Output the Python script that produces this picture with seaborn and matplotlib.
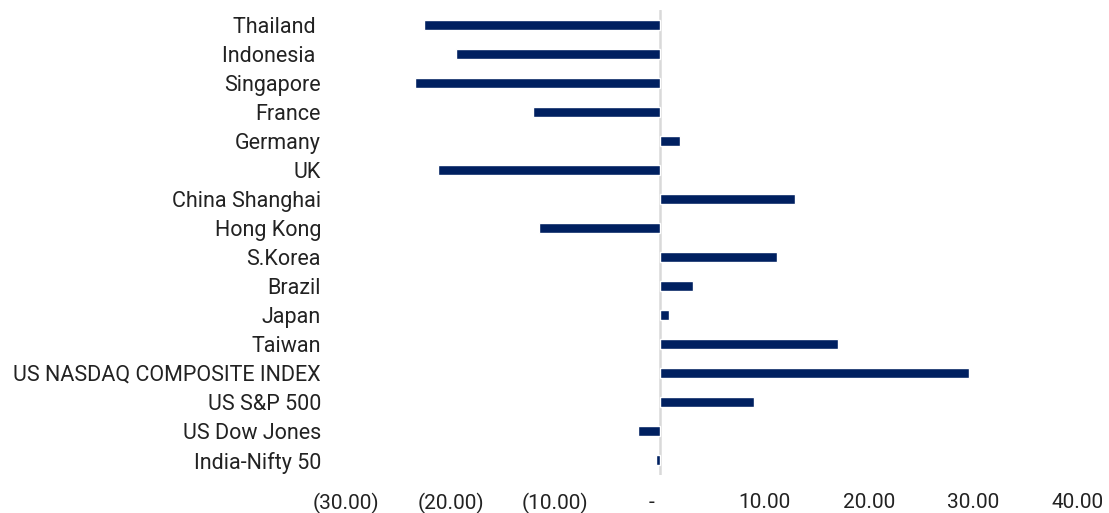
import matplotlib
matplotlib.use("Agg")
import matplotlib.pyplot as plt
import seaborn as sns
import pandas as pd

markets = ['Thailand ', 'Indonesia ', 'Singapore', 'France', 'Germany', 'UK',
           'China Shanghai', 'Hong Kong', 'S.Korea', 'Brazil', 'Japan', 'Taiwan',
           'US NASDAQ COMPOSITE INDEX', 'US S&P 500', 'US Dow Jones', 'India-Nifty 50']
returns = [-22.5, -19.5, -23.4, -12.1, 1.9, -21.2, 12.9, -11.5, 11.2, 3.2, 0.9,
           17.1, 29.6, 9.0, -2.05, -0.4]
x_ticks = [-30, -20, -10, 0, 10, 20, 30, 40]
x_labels = ['(30.00)', '(20.00)', '(10.00)', '-   ', '10.00', '20.00', '30.00', '40.00']

df = pd.DataFrame({'market': markets, 'ret': returns})

sns.set_style("white")
plt.rcParams['font.family'] = ['Roboto', 'DejaVu Sans']

fig = plt.figure(figsize=(11.09, 5.13), dpi=100)
ax = fig.add_axes([0.312, 0.075, 0.66, 0.905])

sns.barplot(data=df, x='ret', y='market', orient='h', color='#002060',
            width=0.34, saturation=1, ax=ax)
ax.axvline(0, color='#d9d9d9', linewidth=1.8, zorder=0)

ax.set_xlim(-30, 40)
ax.set_xticks(x_ticks)
ax.set_xticklabels(x_labels, fontsize=15, color='#222222')
ax.tick_params(axis='x', length=0, pad=13)
ax.tick_params(axis='y', length=0, pad=18, labelsize=15.5, labelcolor='#222222')
ax.set_xlabel('')
ax.set_ylabel('')
for s in ax.spines.values():
    s.set_visible(False)

fig.savefig('out.png', dpi=100)
